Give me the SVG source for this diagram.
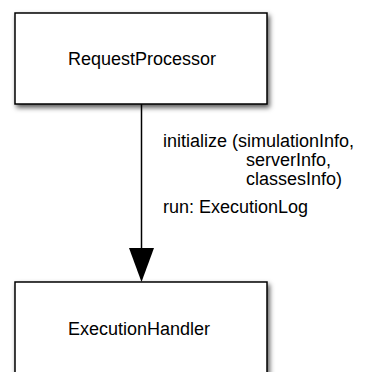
<svg xmlns="http://www.w3.org/2000/svg" width="372" height="372" viewBox="0 0 372 372">
<defs>
<filter id="sh" x="-10%" y="-10%" width="125%" height="130%">
<feDropShadow dx="2" dy="3" stdDeviation="2.5" flood-color="#000" flood-opacity="0.65"/>
</filter>
</defs>
<style>
.box{fill:#fff;stroke:#000;stroke-width:1.5;filter:url(#sh)}
text{font-family:"Liberation Sans",Arial,Helvetica,sans-serif;font-size:18px;fill:#000}
.c{text-anchor:middle}
</style>
<rect width="372" height="372" fill="#fff"/>
<g id="connectors">
<line x1="141.5" y1="104" x2="141.5" y2="248" stroke="#000" stroke-width="1.5"/>
<path d="M129,248 L154,248 L141.5,282 Z" fill="#000"/>
<g id="label">
<text x="163" y="147">initialize (simulationInfo,</text>
<text x="246" y="166">serverInfo,</text>
<text x="246" y="185">classesInfo)</text>
<text x="163" y="213">run: ExecutionLog</text>
</g>
</g>
<g id="RequestProcessor">
<rect class="box" x="15" y="13" width="252" height="91"/>
<text class="c" x="142" y="65">RequestProcessor</text>
</g>
<g id="ExecutionHandler">
<rect class="box" x="15" y="282" width="252" height="110"/>
<text class="c" x="139" y="335">ExecutionHandler</text>
</g>
</svg>
